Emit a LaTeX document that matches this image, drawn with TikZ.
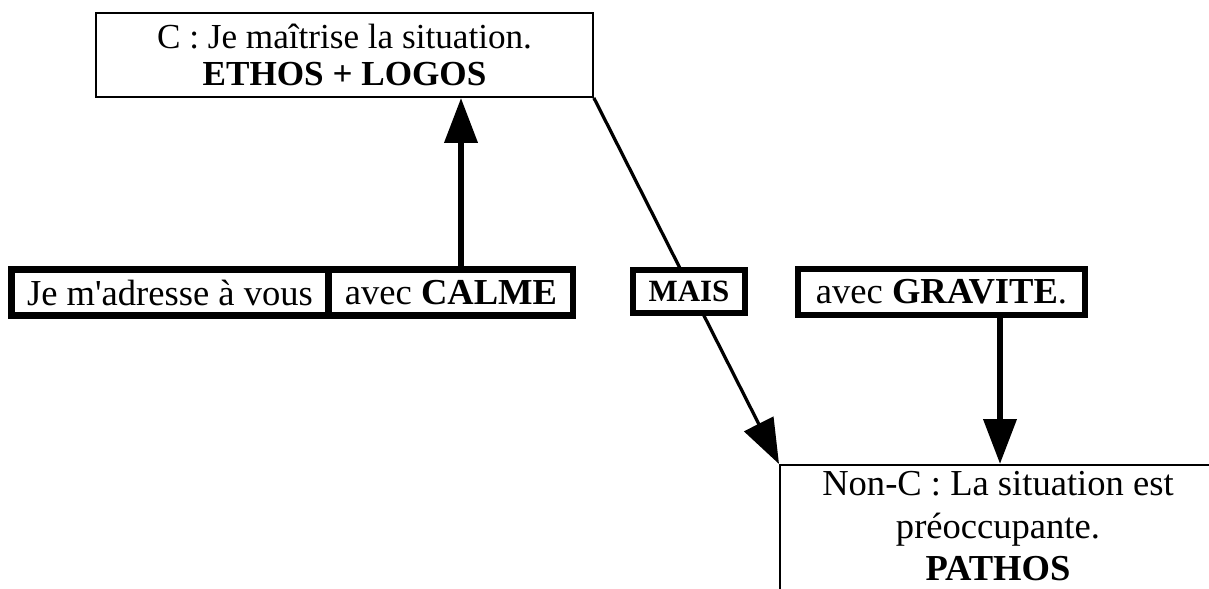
\documentclass[tikz,border=0pt]{standalone}
\usepackage{fontspec}
\setmainfont{Liberation Serif}
\usetikzlibrary{arrows.meta}

\begin{document}
\begin{tikzpicture}[x=0.025cm, y=-0.025cm,
  thinbox/.style={draw, line width=1.3pt, fill=white, align=center},
  thickbox/.style={draw, line width=4.5pt, fill=white, inner sep=0pt, font=\fontsize{26}{30}\selectfont},
  bigarrow/.style={-{Triangle[length=32pt,width=23pt]}, line width=4.3pt},
  slimarrow/.style={-{Triangle[length=32pt,width=23pt]}, line width=2.3pt}]
\clip (0,0) rectangle (1209,588);

% Statement boxes
\draw (344.5,55) node[thinbox, minimum width=12.42cm, minimum height=2.1cm,
  font=\fontsize{25}{26}\selectfont] (c) {C : Je maîtrise la situation.\\ \textbf{ETHOS + LOGOS}};
\draw (779,464) node[thinbox, anchor=north west, minimum width=10.9cm, inner ysep=4.8pt,
  font=\fontsize{26}{30}\selectfont] (nonc) {Non-C : La situation est\\ préoccupante.\\ \textbf{PATHOS}\\[20pt]};

% Speech boxes
\draw (170,292.5) node[thickbox, minimum width=7.93cm, minimum height=1.15cm] (adresse) {Je m\textquotesingle adresse à vous};
\draw (451,292.5) node[thickbox, minimum width=6.1cm, minimum height=1.15cm] (calme) {avec \textbf{CALME}};
\draw (941.5,292) node[thickbox, minimum width=7.18cm, minimum height=1.15cm] (gravite) {avec \textbf{GRAVITE}.};

% Links
\coordinate (up) at (461,0);
\coordinate (down) at (1000,0);
\draw[bigarrow] (calme.north -| up) -- (c.south -| up);
\draw[bigarrow] (gravite.south -| down) -- (nonc.north -| down);
\draw[slimarrow] (c.south east) -- (nonc.north west);

% Connective
\draw (689,291.5) node[thickbox, minimum width=2.8cm, minimum height=1.08cm,
  font=\fontsize{22}{24}\selectfont] (mais) {\textbf{MAIS}};

\end{tikzpicture}
\end{document}
